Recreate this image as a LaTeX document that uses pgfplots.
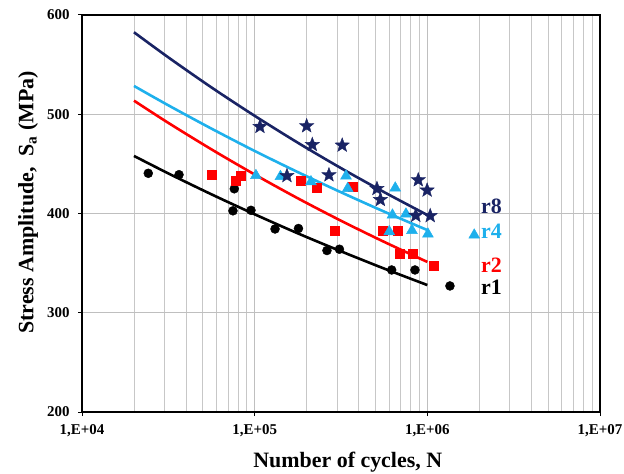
\documentclass[border=0pt]{standalone}
\usepackage{fontspec}
\setmainfont{Liberation Serif}
\usepackage{pgfplots}
\pgfplotsset{compat=1.18}
\definecolor{rnavy}{RGB}{25,35,100}
\definecolor{rcyan}{RGB}{30,176,236}
\definecolor{rred}{RGB}{255,0,0}
\pgfdeclareplotmark{fstar}{%
 \pgfpathmoveto{\pgfpointpolar{90}{\pgfplotmarksize}}%
 \pgfpathlineto{\pgfpointpolar{126}{0.42\pgfplotmarksize}}%
 \pgfpathlineto{\pgfpointpolar{162}{\pgfplotmarksize}}%
 \pgfpathlineto{\pgfpointpolar{198}{0.42\pgfplotmarksize}}%
 \pgfpathlineto{\pgfpointpolar{234}{\pgfplotmarksize}}%
 \pgfpathlineto{\pgfpointpolar{270}{0.42\pgfplotmarksize}}%
 \pgfpathlineto{\pgfpointpolar{306}{\pgfplotmarksize}}%
 \pgfpathlineto{\pgfpointpolar{342}{0.42\pgfplotmarksize}}%
 \pgfpathlineto{\pgfpointpolar{18}{\pgfplotmarksize}}%
 \pgfpathlineto{\pgfpointpolar{54}{0.42\pgfplotmarksize}}%
 \pgfpathclose
 \pgfusepathqfillstroke
}
\begin{document}
\begin{tikzpicture}
\useasboundingbox (-82bp,-62bp) rectangle (542bp,412bp);
\begin{axis}[
 at={(0,0)}, anchor=south west,
 scale only axis, width=518bp, height=397bp,
 xmode=log, xmin=1e4, xmax=1e7, ymin=200, ymax=600,
 xtick={1e4,1e5,1e6,1e7}, xticklabels={{1,E+04},{1,E+05},{1,E+06},{1,E+07}},
 ytick={200,300,400,500,600}, yticklabels={200,300,400,500,600},
 grid=both,
 major grid style={black!25, line width=0.8bp},
 minor grid style={black!22, line width=0.8bp},
 minor tick length=0pt, major tick length=4bp, tick align=outside, tick pos=left,
 axis line style={line width=1.8bp, black},
 tick style={black, line width=1bp},
 ticklabel style={font=\fontsize{15}{18}\selectfont\bfseries},
 yticklabel style={xshift=-5bp},
 xticklabel style={yshift=-5bp},
 xlabel={Number of cycles, N},
 ylabel={Stress Amplitude,\ \ S\textsubscript{a} (MPa)},
 label style={font=\fontsize{22}{26}\selectfont\bfseries},
 xlabel style={at={(axis description cs:0.513,-0.126)}, anchor=center},
 ylabel style={at={(axis description cs:-0.104,0.528)}, anchor=center},
]
% r1 data
\addplot[only marks, mark=*, mark size=4.5bp, black] coordinates {
(24200,440.5) (36460,439.1) (76200,424.9) (74850,402.7) (95200,403.2)
(131200,384.4) (179300,384.9) (262200,362.7) (309700,364.0)
(621300,343.1) (847800,343.1) (1352000,327.0)};
% r2 data
\addplot[only marks, mark=square*, mark size=4.5bp, rred] coordinates {
(56600,439.1) (77200,432.7) (82550,438.3) (184600,432.7) (228600,426.2)
(368500,426.7) (289000,382.9) (548200,382.9) (676000,382.9)
(687900,359.7) (817700,359.7) (1092000,347.1)};
% r4 data
\addplot[only marks, mark=triangle*, mark size=6.3bp, rcyan] coordinates {
(101700,438.3) (141000,437.3) (211800,432.0) (338000,437.8) (345700,425.2)
(651800,425.7) (628200,398.5) (751600,399.5) (601900,381.7)
(814500,382.9) (1008000,379.3) (1869000,378.3)};
% r8 data
\addplot[only marks, mark=fstar, mark size=7.5bp, rnavy, mark options={fill=rnavy, draw=rnavy}] coordinates {
(107300,487.5) (200000,488.2) (215600,469.3) (321300,468.7) (153800,438.0)
(269300,438.8) (510700,425.0) (534600,413.9) (886000,433.8)
(997000,423.4) (856900,398.0) (1039000,397.7)};
% trend lines
\addplot[rnavy, line width=2.6bp, smooth, no marks] coordinates {
(20000,582.6) (31623,557.3) (56234,527.0) (100000,498.4) (177828,471.3) (316228,445.7) (562341,421.5) (1000000,398.5)};
\addplot[rcyan, line width=2.6bp, smooth, no marks] coordinates {
(20000,528.5) (31623,509.0) (56234,485.5) (100000,463.0) (177828,441.7) (316228,421.4) (562341,401.9) (1000000,383.3)};
\addplot[rred, line width=2.6bp, smooth, no marks] coordinates {
(20000,513.7) (31623,491.3) (56234,464.6) (100000,439.3) (177828,415.3) (316228,392.7) (562341,371.4) (1000000,351.2)};
\addplot[black, line width=2.6bp, smooth, no marks] coordinates {
(20000,458.0) (31623,440.4) (56234,419.3) (100000,399.2) (177828,380.0) (316228,361.9) (562341,344.5) (1000000,327.9)};
% labels
\node[font=\fontsize{22}{26}\selectfont\bfseries, text=rnavy] at (axis cs:2.35e6,406.9) {r8};
\node[font=\fontsize{22}{26}\selectfont\bfseries, text=rcyan] at (axis cs:2.35e6,381.7) {r4};
\node[font=\fontsize{22}{26}\selectfont\bfseries, text=rred] at (axis cs:2.35e6,348.1) {r2};
\node[font=\fontsize{22}{26}\selectfont\bfseries, text=black] at (axis cs:2.35e6,325.6) {r1};
\end{axis}
\end{tikzpicture}
\end{document}
